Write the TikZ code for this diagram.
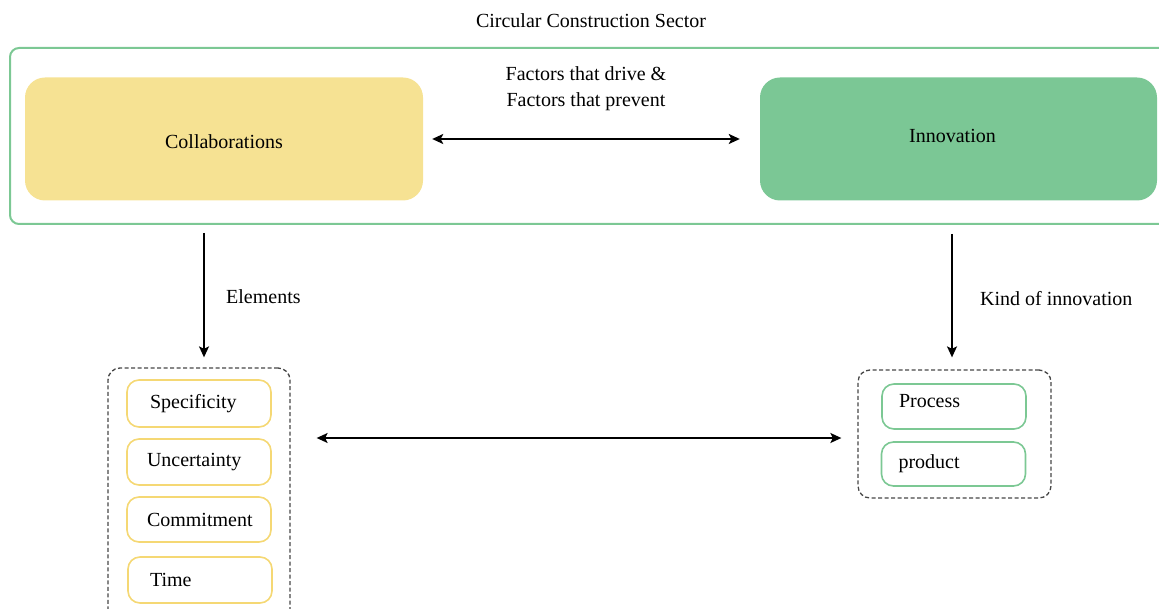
\documentclass[tikz,border=0pt]{standalone}
\usepackage{fontspec}
\setmainfont{Liberation Serif}
\usetikzlibrary{arrows.meta}

\definecolor{leafgreen}{RGB}{124,200,148}
\definecolor{leaffill}{RGB}{123,199,149}
\definecolor{sandfill}{RGB}{246,226,147}
\definecolor{sandline}{RGB}{245,216,116}
\definecolor{dashgrey}{RGB}{70,70,70}

% text set on a fixed baseline relative to the node centre
\newcommand\basedrop[2]{\raisebox{-#1}[0pt][0pt]{#2}}

\tikzset{
  labeltext/.style={font=\fontsize{20}{26}\selectfont, inner sep=0pt},
  sectorbox/.style={draw=leafgreen, line width=2pt, rounded corners=9pt, inner sep=0pt},
  bigbox/.style={rounded corners=20pt, inner sep=0pt, font=\fontsize{20}{24}\selectfont},
  groupbox/.style={draw=dashgrey, line width=1.3pt, dash pattern=on 4pt off 2.5pt, rounded corners=12pt, inner sep=0pt},
  itembox/.style={line width=1.6pt, rounded corners=12pt, fill=white, minimum width=144pt,
    inner xsep=20pt, inner ysep=0pt, text width=104pt, align=left, font=\fontsize{20}{24}\selectfont},
  yellowitem/.style={itembox, draw=sandline},
  greenitem/.style={itembox, draw=leafgreen, inner xsep=17pt, text width=110pt},
  tip/.tip={Stealth[length=11pt, width=10pt, inset=2.5pt]},
  oneway/.style={line width=1.7pt, -tip},
  twoway/.style={line width=1.7pt, tip-tip}
}

\begin{document}
\begin{tikzpicture}[x=1pt, y=-1pt]
  \useasboundingbox (0,0) rectangle (1159,609);
  \clip (0,0) rectangle (1159,609);

  % sector frame and title
  \node[labeltext] (title) at (591,21) {Circular Construction Sector};
  \node[sectorbox, minimum width=1170pt, minimum height=176pt] (sector) at (595,136) {};

  % the two main blocks
  \node[bigbox, fill=sandfill, minimum width=398pt, minimum height=123pt] (collab) at (224,139) {\basedrop{9.8pt}{Collaborations}};
  \node[bigbox, fill=leaffill, minimum width=397pt, minimum height=123pt] (innov) at (958.5,139) {\basedrop{3.3pt}{Innovation}\hspace*{12pt}};

  \node[labeltext, align=center] (factors) at (586,89) {Factors that drive \&\\Factors that prevent};
  \draw[twoway, shorten <=9pt, shorten >=20pt] (collab.east) -- (collab.east -| innov.west);

  % element group
  \node[groupbox, minimum width=182pt, minimum height=272pt] (lbox) at (199,504) {};
  \node[yellowitem, minimum height=47pt] (spec) at (199,403.5) {\hspace*{3pt}Specificity};
  \node[yellowitem, minimum height=46pt] (unc) at (199,462) {Uncertainty};
  \node[yellowitem, minimum height=45pt] (com) at (199,519.5) {Commitment};
  \node[yellowitem, minimum height=46pt] (time) at (200,580) {\hspace*{2pt}Time};

  % innovation kinds group
  \node[groupbox, minimum width=193pt, minimum height=128pt] (rbox) at (954.5,434) {};
  \node[greenitem, minimum height=45pt] (proc) at (954,406.5) {\basedrop{1pt}{Process}};
  \node[greenitem, minimum height=44pt] (prod) at (953.5,464) {product};

  % connectors between the levels
  \draw[oneway, shorten <=8pt, shorten >=10pt]
    ([xshift=5pt]lbox.north |- sector.south) -- ([xshift=5pt]lbox.north);
  \node[labeltext, anchor=west] (elements) at (226,297) {Elements};

  \draw[oneway, shorten <=9pt, shorten >=12pt]
    ([xshift=-2.5pt]rbox.north |- sector.south) -- ([xshift=-2.5pt]rbox.north);
  \node[labeltext, anchor=west] (kind) at (980,299) {Kind of innovation};

  \coordinate (midrow) at (0,438);
  \draw[twoway, shorten <=26pt, shorten >=16pt] (lbox.east |- midrow) -- (rbox.west |- midrow);
\end{tikzpicture}
\end{document}
